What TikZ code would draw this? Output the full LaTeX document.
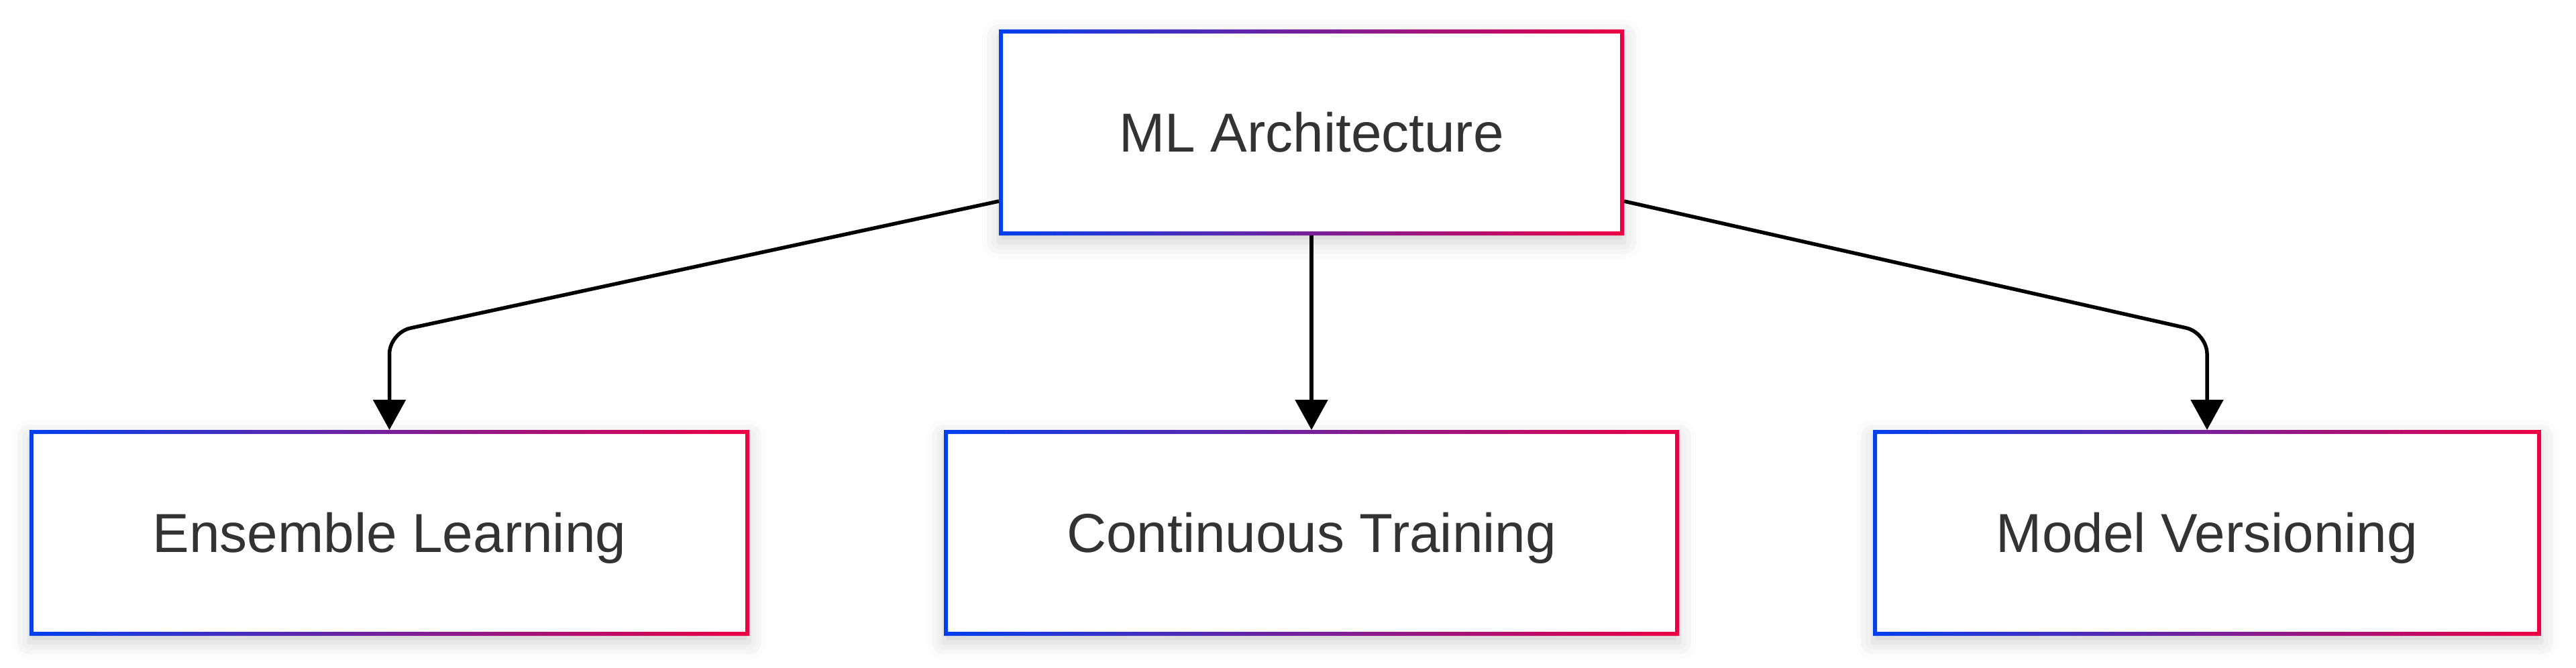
\documentclass[tikz,border=0pt]{standalone}
\usepackage{fontspec}
\setmainfont{Liberation Sans}
\usepackage{xcolor}
\usetikzlibrary{arrows.meta,calc,positioning,shadows.blur}
\definecolor{mlblue}{RGB}{2,64,238}
\definecolor{mlred}{RGB}{236,0,68}
\definecolor{mltext}{RGB}{51,51,51}

\begin{document}
\begin{tikzpicture}
	\tikzstyle{every node}=[font=\fontsize{23.3pt}{28pt}\selectfont, text=mltext]
	\tikzstyle{mlbox}=[rectangle, fill=white, inner sep=0pt, outer sep=0pt, text height=16.7pt, text depth=0pt, minimum height=3.07cm, blur shadow={shadow xshift=0pt, shadow yshift=-0.1cm, shadow blur radius=0.25cm, shadow opacity=18}]
	\tikzstyle{flow}=[line width=0.055cm, rounded corners=0.32cm, -{Triangle[length=0.45cm, width=0.48cm]}]
	\useasboundingbox (0,0) rectangle (38.4,9.95);
	\node [mlbox, minimum width=9.32cm] (arch) at (19.55,7.975) {ML Architecture};
	\node [mlbox, minimum width=10.73cm] (ens) at (5.805,2.005) {Ensemble Learning};
	\node [mlbox, minimum width=10.96cm] (cont) at (19.55,2.005) {Continuous Training};
	\node [mlbox, minimum width=9.96cm] (vers) at (32.90,2.005) {Model Versioning};
	% gradient frames
	\foreach \n in {arch,ens,cont,vers}
		\shade [left color=mlblue, right color=mlred, even odd rule] (\n.north west) rectangle (\n.south east) ([shift={(0.06,-0.06)}]\n.north west) rectangle ([shift={(-0.06,0.06)}]\n.south east);
	% connectors
	\draw [flow] ([yshift=-1.025cm]arch.west) -- ([yshift=1.45cm]ens.north) -- (ens.north);
	\draw [flow] (arch.south) -- (cont.north);
	\draw [flow] ([yshift=-1.025cm]arch.east) -- ([yshift=1.45cm]vers.north) -- (vers.north);
\end{tikzpicture}
\end{document}
